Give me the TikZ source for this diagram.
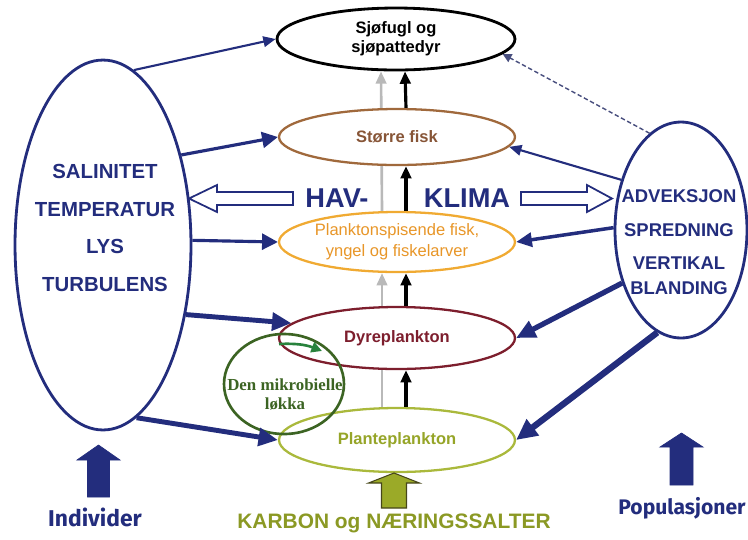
\documentclass[tikz,border=0pt]{standalone}
\usepackage{fontspec}
\setmainfont{Liberation Sans}
\newfontfamily\handfont{Fira Sans}
\newfontfamily\loopfont{Liberation Serif}
\usetikzlibrary{arrows.meta,shapes.geometric,backgrounds}
\definecolor{navy}{RGB}{35,45,125}
\definecolor{brownc}{RGB}{160,105,60}
\definecolor{browntxt}{RGB}{135,85,55}
\definecolor{orangec}{RGB}{240,170,50}
\definecolor{orangetxt}{RGB}{232,150,40}
\definecolor{redc}{RGB}{125,30,45}
\definecolor{plantc}{RGB}{170,185,60}
\definecolor{planttxt}{RGB}{150,165,40}
\definecolor{loopc}{RGB}{60,100,35}
\definecolor{looparrow}{RGB}{40,130,60}
\definecolor{olivef}{RGB}{155,170,40}
\definecolor{olived}{RGB}{70,70,25}
\definecolor{greyc}{RGB}{185,185,185}
\def\blockup[#1](#2,#3)(#4:#5:#6:#7){\filldraw[#1] ({#2-#5},#3) -- ({#2-#5},{#4+#7}) -- ({#2-#6},{#4+#7}) -- (#2,#4) -- ({#2+#6},{#4+#7}) -- ({#2+#5},{#4+#7}) -- ({#2+#5},#3) -- cycle;}
\tikzset{
  level/.style={ellipse, draw, fill=white, line width=1.3pt, minimum width=4.72cm, inner sep=0pt, align=center, font=\fontsize{9.4}{11}\selectfont\bfseries},
  factors/.style={ellipse, draw=navy, line width=1.6pt, inner sep=0pt},
  factortxt/.style={text=navy, align=center, font=\bfseries},
  feed/.style={draw=navy, line width=#1},
  up/.style={line width=1.8pt, -{Triangle[length=7pt,width=6pt]}},
  upgrey/.style={greyc, line width=1.5pt, -{Triangle[length=7pt,width=6pt]}},
  hollow/.style={draw=navy, line width=1pt, fill=white},
}

\begin{document}
\begin{tikzpicture}[x=0.02cm, y=-0.02cm]
	%%%%% START %%%%%
	\useasboundingbox (0,0) rectangle (748,539);
	
	\node[level, draw=black, line width=1.6pt, minimum width=4.76cm, minimum height=1.24cm] (sjofugl) at (396,39) {Sjøfugl og\\sjøpattedyr};
	\node[level, draw=brownc, text=browntxt, minimum height=1.12cm] (storre) at (397,137) {Større fisk};
	\node[level, draw=orangec, text=orangetxt, minimum height=1.2cm, font=\fontsize{9.4}{12}\selectfont] (plfisk) at (397,242) {Planktonspisende fisk,\\yngel og fiskelarver};
	\node[level, draw=redc, text=redc, minimum height=1.24cm] (dyre) at (397,338) {Dyreplankton};
	\node[level, draw=plantc, text=planttxt, minimum height=1.28cm] (plante) at (397,440) {Planteplankton};
	
	\node[factors, minimum width=3.52cm, minimum height=7.4cm] (indiv) at (103,245) {};
	\node[factortxt, font=\fontsize{11.6}{21.5}\selectfont\bfseries] (indivtxt) at (105,228) {SALINITET\\TEMPERATUR\\LYS\\TURBULENS};
	\node[factors, minimum width=2.64cm, minimum height=4.32cm] (popul) at (681,230) {};
	\node[factortxt, font=\fontsize{10.5}{14.2}\selectfont\bfseries] (popultxt) at (679,242) {ADVEKSJON\\[5.6pt]SPREDNING\\[4.5pt]VERTIKAL\\BLANDING};
	
	\node[loopc, draw, line width=1.5pt, ellipse, minimum width=2.4cm, minimum height=2cm, inner sep=0pt] (loop) at (284,384) {};
	\node[text=loopc, align=center, font=\fontsize{9.6}{10.8}\selectfont\loopfont\bfseries] (looptxt) at (285,394) {Den mikrobielle\\løkka};
	\coordinate (loopa) at (279,344);
	\coordinate (loopb) at (322,351);
	\draw[looparrow, line width=1.5pt, -{Triangle[length=6pt,width=6pt]}] (loopa) to[bend left=12] (loopb);
	
	% food chain
	\begin{scope}[on background layer]
		\draw[upgrey] ([xshift=-0.3cm]plante.north) -- ([xshift=-0.3cm]plfisk.south);
		\draw[upgrey] ([xshift=-0.3cm]plfisk.north) -- ([xshift=-0.3cm]sjofugl.south);
	\end{scope}
	\draw[up] ([xshift=0.18cm]plante.north) -- ([xshift=0.18cm]dyre.south);
	\draw[up] ([xshift=0.18cm]dyre.north) -- ([xshift=0.18cm]plfisk.south);
	\draw[up] ([xshift=0.18cm]plfisk.north) -- ([xshift=0.18cm]storre.south);
	\draw[up] ([xshift=0.18cm]storre.north) -- ([xshift=0.18cm]sjofugl.south);
	
	% havklima
	\node[text=navy, font=\fontsize{15.5}{18}\selectfont\bfseries] (hav) at (337,198) {HAV-};
	\node[text=navy, font=\fontsize{15.5}{18}\selectfont\bfseries] (klima) at (467,198) {KLIMA};
	\draw[hollow] (293,192) -- (217,192) -- (217,185) -- (189,198.5) -- (217,212) -- (217,205) -- (293,205) -- cycle;
	\draw[hollow] (521,192) -- (587,192) -- (587,185) -- (612,198.5) -- (587,212) -- (587,205) -- (521,205) -- cycle;
	
	% left
	\draw[feed=1.2pt, -{Triangle[length=7pt,width=6pt]}, navy] (indiv.80) -- (sjofugl.west);
	\draw[feed=1.8pt, -{Triangle[length=9pt,width=9pt]}, navy] (indiv.49) -- (storre.west);
	\draw[feed=1.8pt, -{Triangle[length=9pt,width=9pt]}, navy] (indiv.3) -- (plfisk.west);
	\draw[feed=2.8pt, -{Triangle[length=11pt,width=10pt]}, navy] (indiv.-40) -- (dyre.172);
	\draw[feed=2.8pt, -{Triangle[length=11pt,width=10pt]}, navy] (indiv.-79) -- (plante.west);
	
	% right
	\draw[navy!60!gray, line width=0.8pt, dash pattern=on 2.5pt off 1.5pt, -{Triangle[length=5pt,width=5pt]}] (popul.108) -- (sjofugl.-8);
	\draw[feed=1.2pt, -{Triangle[length=7pt,width=6pt]}, navy] (popul.140) -- (storre.-5);
	\draw[feed=2pt, -{Triangle[length=9pt,width=8pt]}, navy] (popul.178) -- (plfisk.east);
	\draw[feed=3pt, -{Triangle[length=11pt,width=10pt]}, navy] (popul.222) -- (dyre.east);
	\draw[feed=3.6pt, -{Triangle[length=12pt,width=11pt]}, navy] (popul.257) -- (plante.east);
	
	% bottom
	\blockup[navy](98.5,497)(445:11:21.5:15)
	\blockup[navy](681.5,485)(433:11.5:21.5:14)
	\blockup[fill=olivef, draw=olived, line width=0.6pt](394,508)(473:12.5:25.5:10)
	\node[text=navy, font=\fontsize{13}{15}\selectfont\handfont\bfseries] (indlabel) at (95,517) {Individer};
	\node[text=navy, font=\fontsize{12}{14}\selectfont\handfont\bfseries] (poplabel) at (682,508) {Populasjoner};
	\node[text=olivef!90!black, font=\fontsize{11.9}{14}\selectfont\bfseries] (karbon) at (394,523) {KARBON og NÆRINGSSALTER};
	%%%%% END %%%%%
\end{tikzpicture}
\end{document}
